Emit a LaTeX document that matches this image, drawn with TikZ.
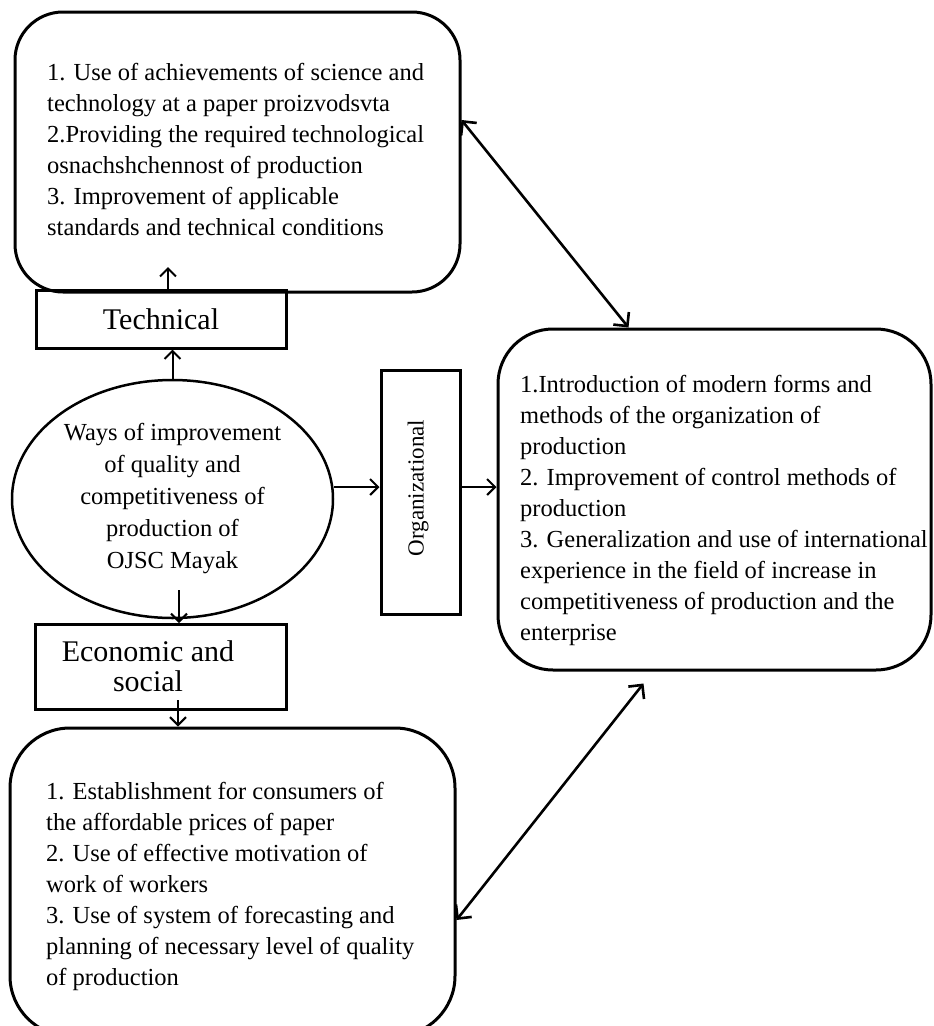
\documentclass[tikz,border=0pt]{standalone}
\usepackage{fontspec}
\setmainfont{Liberation Serif}
\usetikzlibrary{shapes.geometric,arrows.meta}
\begin{document}
\begin{tikzpicture}[x=1pt,y=-1pt,
  rbox/.style={draw, line width=3pt, rounded corners=48pt, inner sep=0pt},
  sbox/.style={draw, line width=3pt, inner sep=0pt},
  body/.style={inner sep=0pt, align=left, font=\fontsize{24.5pt}{31pt}\selectfont},
  lab/.style={inner sep=0pt, align=center, font=\fontsize{30pt}{30pt}\selectfont},
  arr/.style={line width=2pt, -{Straight Barb[length=8pt,width=16pt]}},
  darr/.style={line width=2.6pt, {Straight Barb[length=10pt,width=20pt]}-{Straight Barb[length=10pt,width=20pt]}}]
\useasboundingbox (0,0) rectangle (934,1026);
\clip (0,0) rectangle (934,1026);

% boxes
\node[rbox, minimum width=445pt, minimum height=280pt] (top) at (237.5,152) {};
\node[body, anchor=north west] (toptext) at (47,63) {1. Use of achievements of science and\\technology at a paper proizvodsvta\\2.Providing the required technological\\osnachshchennost of production\\3. Improvement of applicable\\standards and technical conditions};

\node[sbox, minimum width=250pt, minimum height=58pt, lab] (tech) at (161,319) {Technical};

\node[draw, ellipse, line width=2.5pt, minimum width=321pt, minimum height=238pt, inner sep=0pt, align=center, font=\fontsize{24.5pt}{32pt}\selectfont] (ell) at (172.5,499) {Ways of improvement\\of quality and\\competitiveness of\\production of\\OJSC Mayak};

\node[sbox, minimum width=79pt, minimum height=244pt] (org) at (420.5,492) {};
\node[rotate=90, inner sep=0pt, font=\fontsize{23pt}{23pt}\selectfont] (orgtext) at (418,488) {Organizational};

\node[rbox, rounded corners=55pt, minimum width=433pt, minimum height=341pt] (right) at (714.5,499.5) {};
\node[body, anchor=north west] (righttext) at (520,375) {1.Introduction of modern forms and\\methods of the organization of\\production\\2. Improvement of control methods of\\production\\3. Generalization and use of international\\experience in the field of increase in\\competitiveness of production and the\\enterprise};

\node[sbox, minimum width=251pt, minimum height=85pt] (econ) at (161,667) {};
\node[lab] (econtext) at (148,666) {Economic and\\social};

\node[rbox, rounded corners=60pt, minimum width=445pt, minimum height=308pt] (bottom) at (232.5,882) {};
\node[body, anchor=north west] (bottomtext) at (46,782) {1. Establishment for consumers of\\the affordable prices of paper\\2. Use of effective motivation of\\work of workers\\3. Use of system of forecasting and\\planning of necessary level of quality\\of production};

% connectors
\coordinate (techtip) at (168,267);
\coordinate (ecostart) at (179,590);
\coordinate (botstart) at (178,700);
\draw[arr] (ell.north) -- (ell.north |- tech.south);
\draw[arr] (techtip |- tech.north) -- (techtip);
\draw[arr] (ecostart) -- (ecostart |- econ.north);
\draw[arr] (botstart) -- (botstart |- bottom.north);
\draw[arr] ([yshift=12pt]ell.east) -- ([yshift=12pt]ell.east -| org.west);
\draw[arr] ([yshift=5pt]org.east) -- ([yshift=5pt]org.east -| right.west);
\draw[darr] ([yshift=32pt]top.east) -- ([xshift=-86pt]right.north);
\draw[darr] ([yshift=-38pt]bottom.east) -- ([xshift=-71pt,yshift=-12pt]right.south);
\end{tikzpicture}
\end{document}
